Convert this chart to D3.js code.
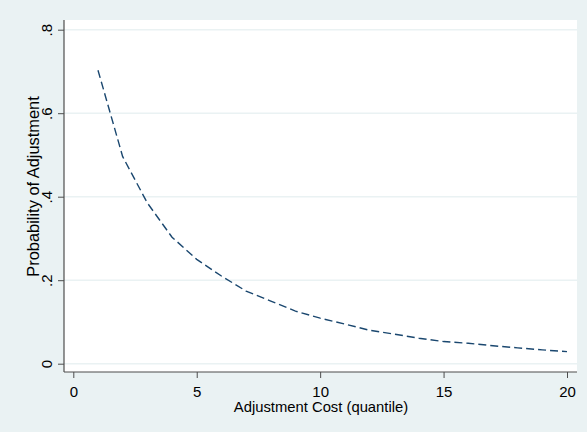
<!DOCTYPE html>
<html>
<head>
<meta charset="utf-8">
<script src="https://cdn.jsdelivr.net/npm/d3@7"></script>
<style>
  html, body { margin: 0; padding: 0; background: #eaf2f3; }
  svg { display: block; font-family: "Liberation Sans", Arial, sans-serif; }
</style>
</head>
<body>
<svg id="chart" width="587" height="432"></svg>
<script>
// Adjustment cost quantile and the estimated probability of adjustment
const quantiles = [1, 2, 3, 4, 5, 6, 7, 8, 9, 10, 11, 12, 13, 14, 15, 16, 17, 18, 19, 20];
const probability = [0.703, 0.496, 0.385, 0.303, 0.250, 0.210, 0.174, 0.150, 0.126, 0.109,
                     0.095, 0.080, 0.071, 0.061, 0.053, 0.049, 0.043, 0.038, 0.033, 0.029];
const xTicks = [0, 5, 10, 15, 20];
const yTicks = [0, 0.2, 0.4, 0.6, 0.8];
const yTickLabels = ["0", ".2", ".4", ".6", ".8"];

const svg = d3.select("#chart");
const W = 587, H = 432;
const axisColor = "#4d4d4d";

// plot region
const region = { left: 64, right: 577, top: 20, bottom: 372 };

const x = d3.scaleLinear().domain([0, 20]).range([73.3, 567]);
const y = d3.scaleLinear().domain([0, 0.8]).range([363.7, 29.7]);

svg.append("rect").attr("width", W).attr("height", H).attr("fill", "#eaf2f3");
svg.append("rect")
  .attr("x", region.left).attr("y", region.top)
  .attr("width", region.right - region.left)
  .attr("height", region.bottom - region.top)
  .attr("fill", "#ffffff");

// horizontal grid lines
svg.append("g").selectAll("line").data(yTicks).join("line")
  .attr("x1", region.left).attr("x2", region.right)
  .attr("y1", d => y(d)).attr("y2", d => y(d))
  .attr("stroke", "#eaf2f3").attr("stroke-width", 1.5);

// y axis
const yAxis = d3.axisLeft(y).tickValues(yTicks)
  .tickFormat((d, i) => yTickLabels[i]).tickSize(6).tickSizeOuter(0);
const gy = svg.append("g").attr("transform", `translate(${region.left},0)`).call(yAxis);
gy.select(".domain").remove();
gy.selectAll(".tick line").attr("stroke", axisColor).attr("stroke-width", 1);
gy.selectAll(".tick text")
  .attr("font-size", 15).attr("fill", "#000")
  .attr("text-anchor", "middle")
  .attr("x", 0).attr("y", 0).attr("dy", 0)
  .attr("transform", "translate(-12.3,0) rotate(-90)");
svg.append("line")
  .attr("x1", region.left).attr("x2", region.left)
  .attr("y1", region.top).attr("y2", region.bottom)
  .attr("stroke", axisColor).attr("stroke-width", 1.2);

// x axis
const xAxis = d3.axisBottom(x).tickValues(xTicks).tickFormat(d3.format("d")).tickSize(6).tickSizeOuter(0);
const gx = svg.append("g").attr("transform", `translate(0,${region.bottom})`).call(xAxis);
gx.select(".domain").remove();
gx.selectAll(".tick line").attr("stroke", axisColor).attr("stroke-width", 1);
gx.selectAll(".tick text").attr("font-size", 15).attr("fill", "#000")
  .attr("y", 24.5).attr("dy", 0);
svg.append("line")
  .attr("x1", region.left).attr("x2", region.right)
  .attr("y1", region.bottom).attr("y2", region.bottom)
  .attr("stroke", axisColor).attr("stroke-width", 1.2);

// axis titles
svg.append("text")
  .attr("x", 321).attr("y", 412)
  .attr("text-anchor", "middle").attr("font-size", 14.8).attr("fill", "#000")
  .text("Adjustment Cost (quantile)");
svg.append("text")
  .attr("transform", "translate(38.5,186.5) rotate(-90)")
  .attr("text-anchor", "middle").attr("font-size", 16.4).attr("fill", "#000")
  .text("Probability of Adjustment");

// dashed curve
const line = d3.line().x((d, i) => x(quantiles[i])).y(d => y(d));
svg.append("path")
  .datum(probability)
  .attr("d", line)
  .attr("fill", "none")
  .attr("stroke", "#1a476f")
  .attr("stroke-width", 1.4)
  .attr("stroke-dasharray", "8,4");
</script>
</body>
</html>
